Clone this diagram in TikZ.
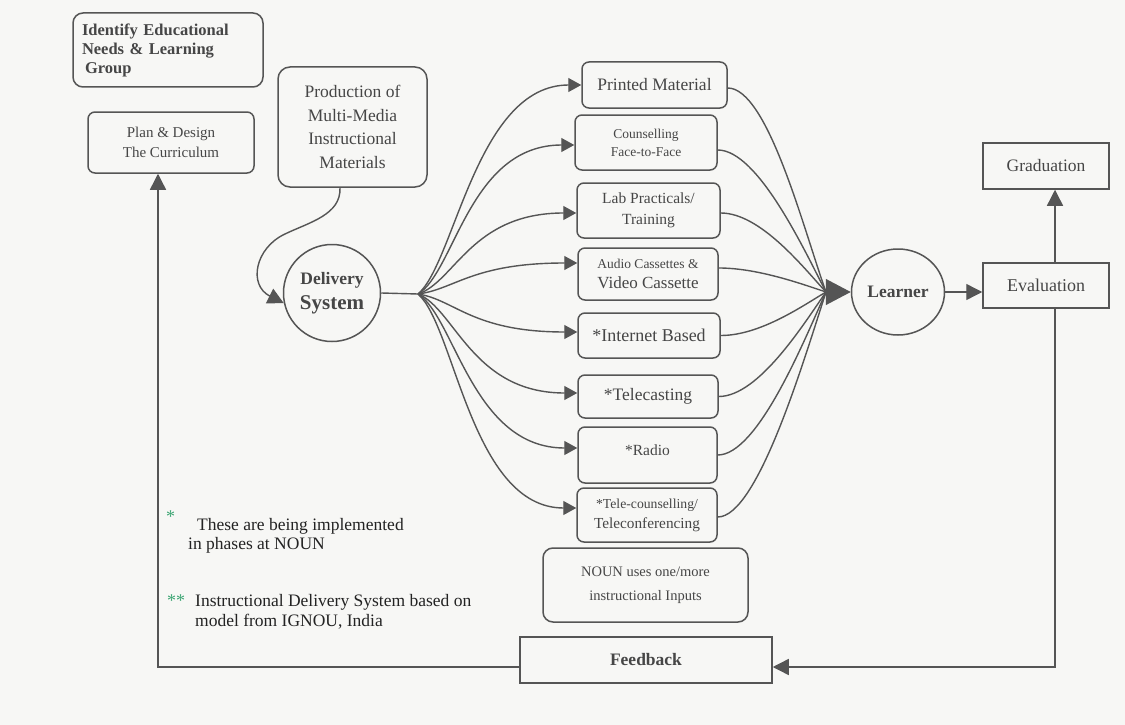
\documentclass[tikz,border=0pt]{standalone}
\usepackage{fontspec}
\setmainfont{Liberation Serif}
\usetikzlibrary{arrows.meta,shapes.geometric}
\definecolor{paper}{RGB}{247,247,245}
\definecolor{ink}{RGB}{85,85,85}
\definecolor{txt}{RGB}{70,70,70}
\definecolor{notetxt}{RGB}{35,35,35}
\definecolor{stargreen}{RGB}{60,165,115}
\newcommand{\fsz}[2]{\fontsize{#1}{#2}\selectfont}
\begin{document}
\begin{tikzpicture}[x=1pt,y=-1pt,
  box/.style={draw=ink, line width=1.5pt, rounded corners=7pt, inner sep=0pt, text=txt, align=center},
  sqbox/.style={draw=ink, line width=1.5pt, inner sep=0pt, text=txt, align=center},
  conn/.style={draw=ink, line width=1.4pt},
  arr/.style={conn, -{Triangle[length=16pt,width=16pt]}},
  farr/.style={conn, -{Triangle[length=13pt,width=14pt]}},
  note/.style={anchor=base west, inner sep=0pt, text=notetxt, font=\fsz{17.5}{20}},
  star/.style={anchor=base west, inner sep=0pt, text=stargreen, font=\fsz{18}{20}}]
\fill[paper] (0,0) rectangle (1125,725);
\useasboundingbox (0,0) rectangle (1125,725);

% left column
\node[box, rounded corners=10pt, text width=172pt, inner xsep=9pt, minimum height=74pt, align=left, font=\fsz{16.5}{19}\bfseries] (identify) at (168,50) {Identify Educational\\Needs \& Learning\\\hspace{3pt}Group};
\node[box, minimum width=166pt, minimum height=61pt, font=\fsz{15}{20}] (plan) at (171,142.5) {Plan \& Design\\The Curriculum};
\node[box, rounded corners=12pt, minimum width=149pt, minimum height=120pt, font=\fsz{17.5}{23.5}] (prod) at (352.5,127) {Production of\\Multi-Media\\Instructional\\Materials};
\node[draw=ink, line width=1.5pt, circle, minimum size=97pt, inner sep=0pt, text=txt, align=center, font=\fsz{17.5}{25}\bfseries] (deliv) at (332,293) {Delivery\\{\fsz{21}{25}System}};

% media column
\node[box, minimum width=145pt, minimum height=46pt, font=\fsz{17.5}{20}] (printed) at (654.5,85) {Printed Material};
\node[box, minimum width=142pt, minimum height=55pt, font=\fsz{13.5}{18}] (counsel) at (646,142.5) {Counselling\\Face-to-Face};
\node[box, minimum width=143pt, minimum height=55pt, font=\fsz{15.5}{21}] (lab) at (648.5,210.5) {Lab Practicals/\\Training};
\node[box, minimum width=140pt, minimum height=52pt, font=\fsz{13.5}{20}] (audio) at (648,274) {Audio Cassettes \&\\{\fsz{17}{20}Video Cassette}};
\node[box, minimum width=142pt, minimum height=45pt, font=\fsz{18}{20}] (internet) at (649,335.5) {*Internet Based};
\node[box, minimum width=140pt, minimum height=43pt, font=\fsz{17.5}{20}] (telecast) at (648,396.5) {*Telecasting};
\node[box, minimum width=139pt, minimum height=56pt, text height=11pt, text depth=11pt, font=\fsz{15.5}{20}] (radio) at (647.5,455) {*Radio};
\node[box, minimum width=140pt, minimum height=54pt, font=\fsz{13.7}{20}] (telecon) at (647,515) {*Tele-counselling/\\{\fsz{15.3}{20}Teleconferencing}};
\node[box, rounded corners=10pt, minimum width=205pt, minimum height=74pt, font=\fsz{14.5}{24}] (noun) at (645.5,585) {NOUN uses one/more\\instructional Inputs};
\node[sqbox, minimum width=252pt, minimum height=46pt, font=\fsz{17.5}{20}\bfseries] (feedback) at (646,660) {Feedback};

% right side
\node[draw=ink, line width=1.5pt, ellipse, minimum width=93pt, minimum height=86pt, inner sep=0pt, text=txt, font=\fsz{17.5}{20}\bfseries] (learner) at (898,292) {Learner};
\node[sqbox, minimum width=126pt, minimum height=46pt, font=\fsz{17.5}{20}] (grad) at (1046,166) {Graduation};
\node[sqbox, minimum width=126pt, minimum height=45pt, font=\fsz{18}{20}] (eval) at (1046,285.5) {Evaluation};

% production -> delivery
\draw[arr] ([xshift=-12.5pt]prod.south) .. controls +(1,27) and (310,222) .. (285,234) .. controls (255,248) and (248,285) .. (deliv.192);

% fan out
\coordinate (fan) at (418,294);
\draw[conn] (deliv.east) -- (fan);
\draw[farr] (fan) .. controls +(37,-31.4) and +(-105,0) .. (printed.west);
\draw[farr] (fan) .. controls +(37,-22.4) and +(-105,0) .. ([yshift=-2.5pt]counsel.west);
\draw[farr] (fan) .. controls +(37,-12.2) and +(-105,0) .. ([yshift=-2.5pt]lab.west);
\draw[farr] (fan) .. controls +(37,-4.7) and +(-105,0) .. ([yshift=11pt]audio.west);
\draw[farr] (fan) .. controls +(37,5.7) and +(-105,0) .. ([yshift=3.5pt]internet.west);
\draw[farr] (fan) .. controls +(37,14.9) and +(-105,0) .. ([yshift=3.5pt]telecast.west);
\draw[farr] (fan) .. controls +(37,23.1) and +(-105,0) .. ([yshift=7pt]radio.west);
\draw[farr] (fan) .. controls +(37,32.1) and +(-105,0) .. ([yshift=7pt]telecon.west);

% fan in
\coordinate (conv) at (826,292);
\draw[conn] ([yshift=-3pt]printed.east) .. controls +(40,0) and +(-22,-61.2) .. (conv);
\draw[conn] ([yshift=-7.5pt]counsel.east) .. controls +(40,0) and +(-22,-42.6) .. (conv);
\draw[conn] ([yshift=-2.5pt]lab.east) .. controls +(40,0) and +(-22,-23.7) .. (conv);
\draw[conn] ([yshift=6pt]audio.east) .. controls +(40,0) and +(-22,-7.2) .. (conv);
\draw[conn] (internet.east) .. controls +(40,0) and +(-22,12.9) .. (conv);
\draw[conn] (telecast.east) .. controls +(40,0) and +(-22,31.5) .. (conv);
\draw[conn] (radio.east) .. controls +(40,0) and +(-22,48.9) .. (conv);
\draw[conn] ([yshift=-2pt]telecon.east) .. controls +(40,0) and +(-22,67.5) .. (conv);
\draw[conn, -{Triangle[length=25pt,width=26pt]}] (conv) -- (learner.west);

% learner -> evaluation -> graduation, feedback loop
\draw[arr] (learner.east) -- (learner.east -| eval.west);
\draw[arr] ([xshift=9pt]eval.north) -- ([xshift=9pt]grad.south);
\coordinate (ecorner) at (1055,667);
\draw[arr] ([xshift=9pt]eval.south) -- (ecorner) -- (ecorner -| feedback.east);
\coordinate (fcorner) at (158,667);
\draw[arr] (fcorner -| feedback.west) -- (fcorner) -- (fcorner |- plan.south);

% notes
\node[star] (star1) at (166,522) {*};
\node[note] (note1a) at (197,530) {These are being implemented};
\node[note] (note1b) at (188,549) {in phases at NOUN};
\node[star] (star2) at (167,606) {**};
\node[note] (note2a) at (195,606) {Instructional Delivery System based on};
\node[note] (note2b) at (195,626) {model from IGNOU, India};
\end{tikzpicture}
\end{document}
